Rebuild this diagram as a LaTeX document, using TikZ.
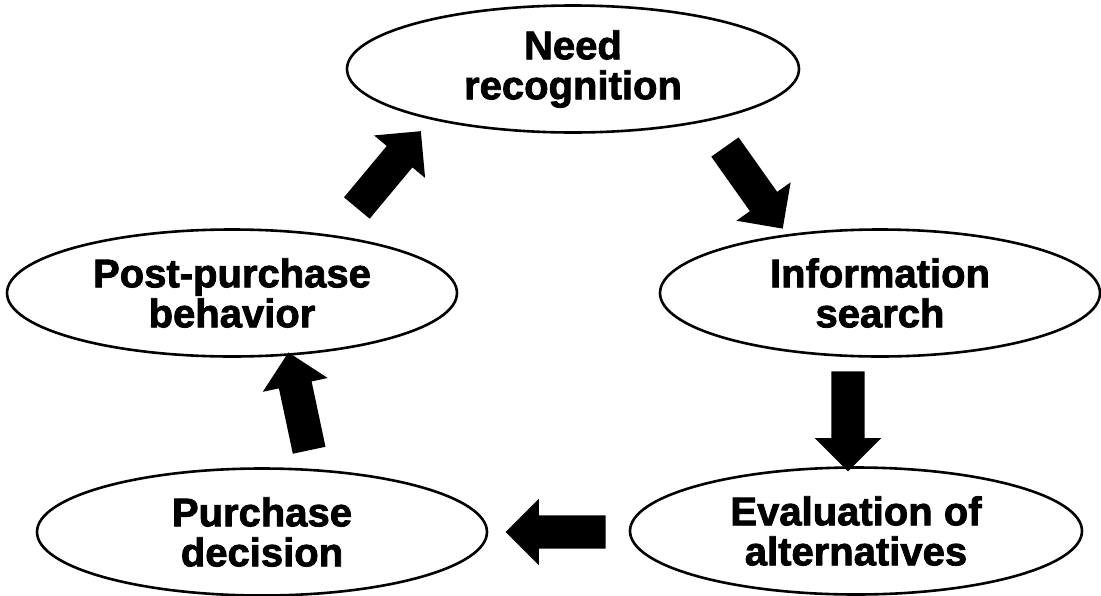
\documentclass[tikz,border=0pt]{standalone}
\usepackage{fontspec}
\newfontfamily\lblfont{Liberation Sans Bold}[FakeBold=2]
\usetikzlibrary{shapes.geometric,shapes.arrows}
\tikzset{
  stage/.style={draw=black, line width=2.6pt, ellipse, inner sep=0pt,
    minimum width=#1, minimum height=127pt,
    font=\lblfont\fontsize{40}{40}\selectfont, align=center},
  stage/.default=450pt,
  blockarrow/.style={single arrow, fill=black, draw=none, inner xsep=0pt, inner ysep=16.5pt,
    single arrow head extend=16.5pt, minimum height=100pt, single arrow tip angle=90,
    rotate=#1},
}
\begin{document}
\begin{tikzpicture}[x=1pt,y=-1pt]
\useasboundingbox (0,0) rectangle (1101,595);
\node[stage=452pt] (need) at (573,69) {Need\\recognition};
\node[stage=440pt] (info) at (880,293) {Information\\search};
\node[stage=450pt] (post) at (232,293) {Post-purchase\\behavior};
\node[stage=450pt] (purch) at (262,532) {Purchase\\decision};
\node[stage=452pt] (eval) at (856,531) {Evaluation of\\alternatives};
\node[blockarrow=50.2] (a1) at (383.5,176) {};
\node[blockarrow=-54.7] (a2) at (749,181) {};
\node[blockarrow=-90] (a3) at (848,413) {};
\node[blockarrow=180] (a4) at (564,532) {};
\node[blockarrow=102] (a5) at (300.5,409.5) {};
\end{tikzpicture}
\end{document}
